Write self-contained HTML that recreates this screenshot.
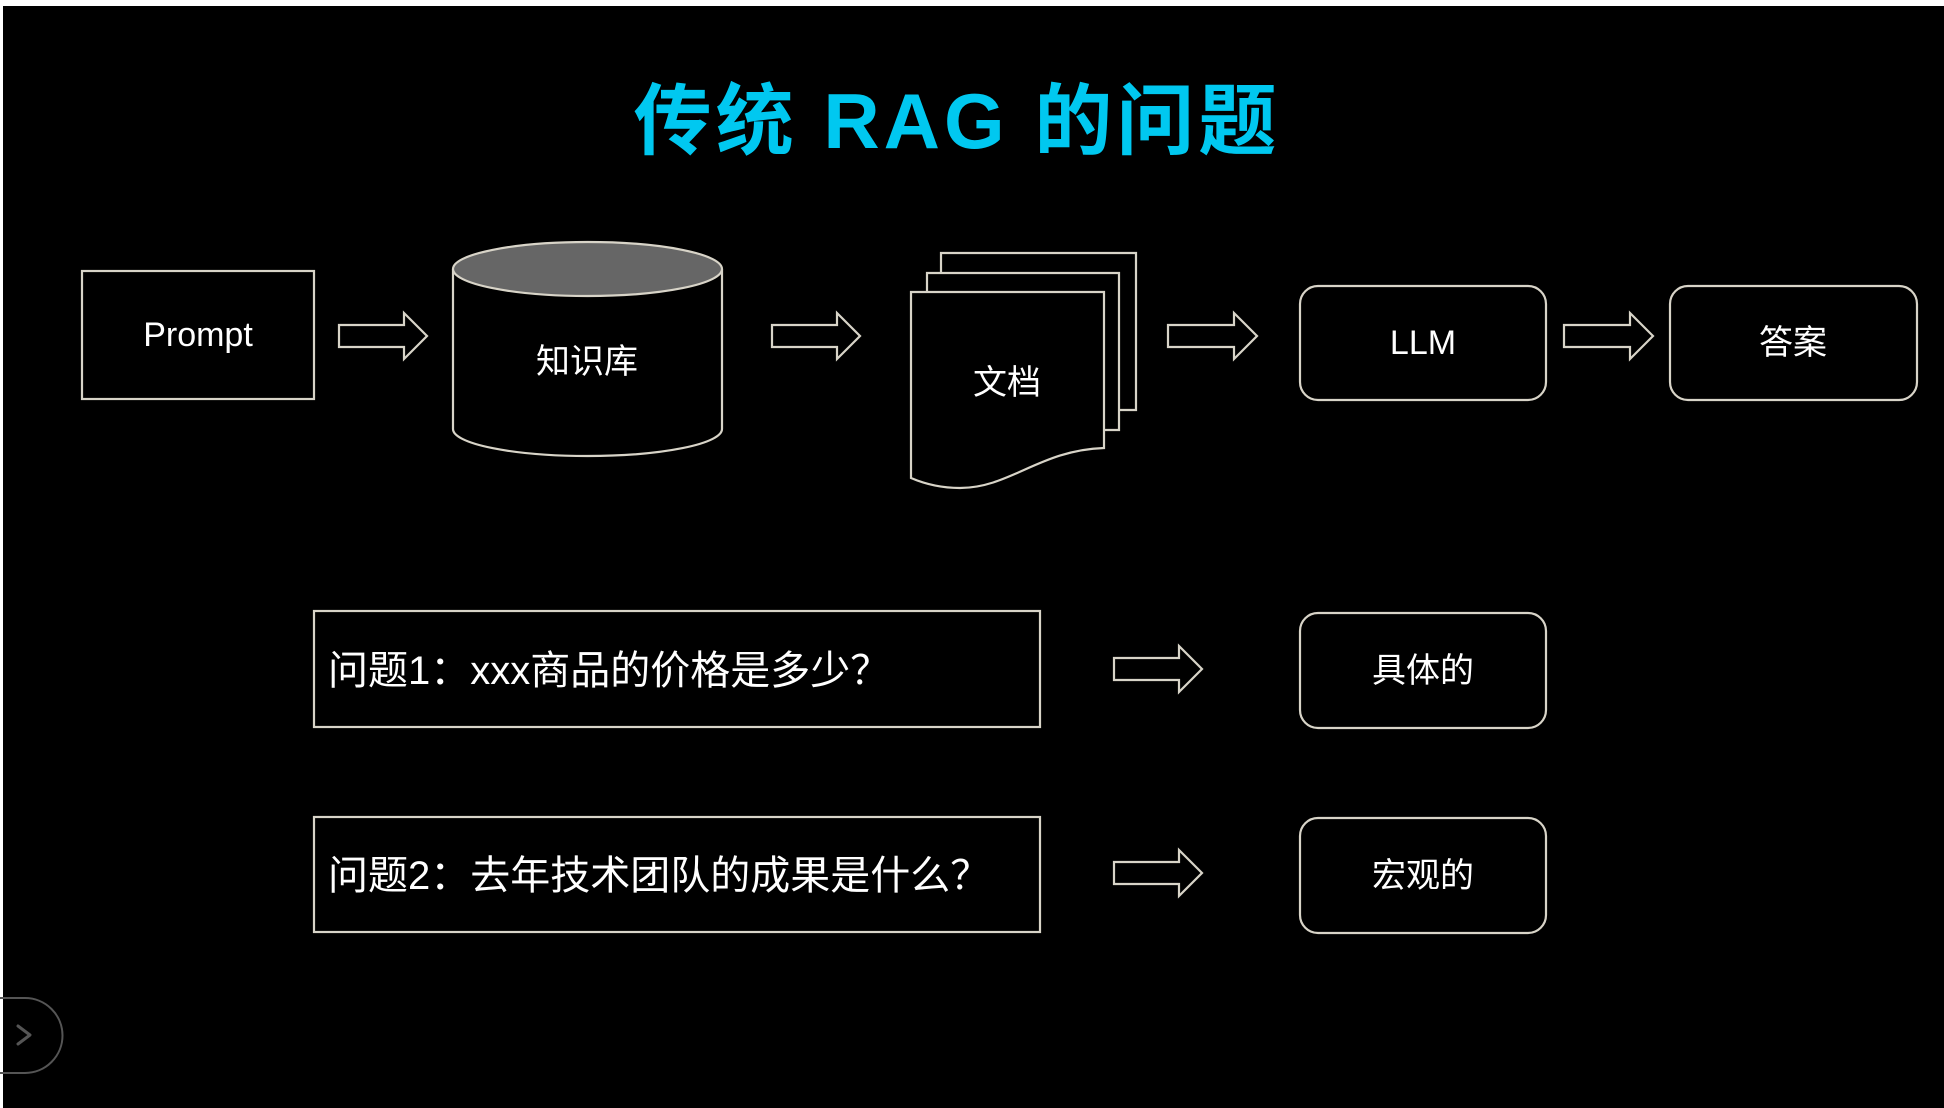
<!DOCTYPE html>
<html><head><meta charset="utf-8"><style>
html,body{margin:0;padding:0;background:#000;}
body{width:1944px;height:1108px;overflow:hidden;position:relative;}
svg{position:absolute;left:0;top:0;}
text{font-family:"Liberation Sans","Noto Sans CJK SC",sans-serif;fill:#fff;}
</style></head><body>
<svg width="1944" height="1108" viewBox="0 0 1944 1108">
<rect x="0" y="0" width="1944" height="6" fill="#fff"/>
<rect x="0" y="0" width="3" height="1108" fill="#fff"/>
<text x="957" y="148" font-size="78" font-weight="bold" text-anchor="middle" style="fill:#00c8f0;letter-spacing:4px">传统 RAG 的问题</text>
<g fill="none" stroke="#d8d4c8" stroke-width="2.2">
<rect x="82" y="271" width="232" height="128"/>
<path d="M453 269 V429 A134.5 27 0 0 0 722 429 V269"/>
<ellipse cx="587.5" cy="269" rx="134.5" ry="27" fill="#666"/>
<path d="M941 273 V253 H1136 V410 H1120"/>
<path d="M927 292 V273 H1119 V430 H1104"/>
<path d="M911 292 H1104 V448 C1040 450 1010 488 960 488 C940 488 925 484 911 478 Z" fill="#000"/>
<rect x="1300" y="286" width="246" height="114" rx="18"/>
<rect x="1670" y="286" width="247" height="114" rx="18"/>
<rect x="314" y="611" width="726" height="116"/>
<rect x="1300" y="613" width="246" height="115" rx="18"/>
<rect x="314" y="817" width="726" height="115"/>
<rect x="1300" y="818" width="246" height="115" rx="18"/>
<path d="M339 325 H404 V313 L427 336 L404 359 V347 H339 Z"/>
<path d="M772 325 H837 V313 L860 336 L837 359 V347 H772 Z"/>
<path d="M1168 325 H1234 V313 L1257 336 L1234 359 V347 H1168 Z"/>
<path d="M1564 325 H1630 V313 L1653 336 L1630 359 V347 H1564 Z"/>
<path d="M1114 658 H1179 V646 L1202 669 L1179 692 V680 H1114 Z"/>
<path d="M1114 862 H1179 V850 L1202 873 L1179 896 V884 H1114 Z"/>
</g>
<path d="M0 998 H25 A37.5 37.5 0 0 1 25 1073 H0" fill="none" stroke="#555" stroke-width="2"/>
<path d="M18 1026 L30 1035 L18 1044" fill="none" stroke="#555" stroke-width="3" stroke-linejoin="round" stroke-linecap="round"/>
<text x="198" y="346" font-size="34" text-anchor="middle">Prompt</text>
<text x="587" y="373" font-size="34" text-anchor="middle">知识库</text>
<text x="1007" y="394" font-size="34" text-anchor="middle">文档</text>
<text x="1423" y="354" font-size="34" text-anchor="middle">LLM</text>
<text x="1793" y="354" font-size="34" text-anchor="middle">答案</text>
<text x="328" y="684" font-size="40">问题1：xxx商品的价格是多少？</text>
<text x="328" y="889" font-size="40">问题2：去年技术团队的成果是什么？</text>
<text x="1423" y="682" font-size="34" text-anchor="middle">具体的</text>
<text x="1423" y="887" font-size="34" text-anchor="middle">宏观的</text>
</svg>
</body></html>
